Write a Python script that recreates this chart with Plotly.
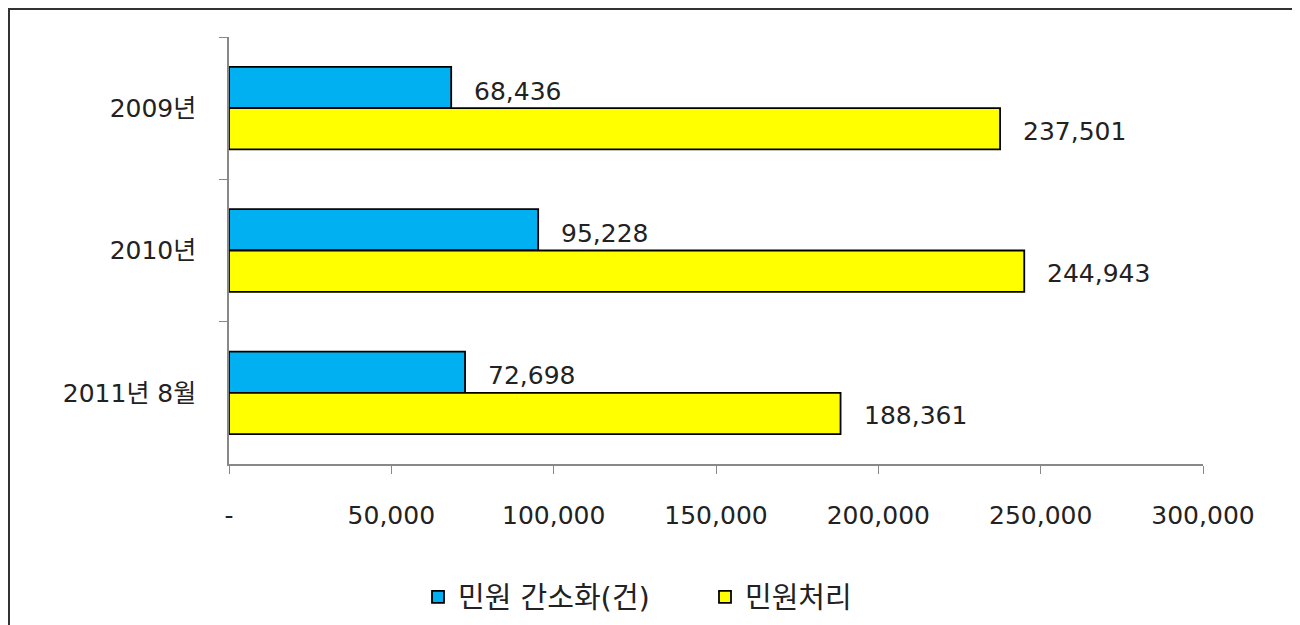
import plotly.graph_objects as go

categories = ["2009년", "2010년", "2011년 8월"]
simplify = [68436, 95228, 72698]
process = [237501, 244943, 188361]
series_names = ["민원 간소화(건)", "민원처리"]
tick_vals = [0, 50000, 100000, 150000, 200000, 250000, 300000]
tick_text = ["-", "50,000", "100,000", "150,000", "200,000", "250,000", "300,000"]

FONT = "DejaVu Sans, Noto Sans CJK KR"
TXT = "#222222"
fig = go.Figure()
colors = ["#00B0F0", "#FFFF00"]
for name, vals, col in zip(series_names, [simplify, process], colors):
    fig.add_trace(go.Bar(
        y=categories, x=vals, name=name, orientation="h",
        marker=dict(color=col, line=dict(color="#000000", width=1.8)),
    ))

# data labels
for ti, vals in enumerate([simplify, process]):
    for cat, v in zip(categories, vals):
        fig.add_annotation(
            x=v, y=cat, text=f"{v:,}", showarrow=False, xanchor="left",
            xshift=21, yshift=(17 if ti == 0 else -23),
            font=dict(family=FONT, size=25, color=TXT),
        )

# page has an 8px body margin; positions below are in figure coordinates
L, T = 221, 29
R = 1300 - 1195
B = 625 - 457
W, H = 1300 - L - R, 625 - T - B
fig.add_shape(type="rect", xref="paper", yref="paper",
              x0=(1 - L) / W, x1=(1286 - L) / W,
              y0=-(650 - 457) / H, y1=1 + (T - 1) / H,
              line=dict(color="#333333", width=2), fillcolor="rgba(0,0,0,0)")

fig.update_layout(
    width=1300, height=625,
    margin=dict(l=L, r=R, t=T, b=B),
    paper_bgcolor="white", plot_bgcolor="white",
    barmode="group", bargap=0.42, bargroupgap=0,
    font=dict(family=FONT, size=25, color=TXT),
    showlegend=True,
    legend=dict(orientation="h", x=(410 - L) / W, xanchor="left",
                y=-(589 - 457) / H, yanchor="middle",
                font=dict(family=FONT, size=29, color=TXT), itemwidth=30,
                entrywidth=242, entrywidthmode="pixels",
                traceorder="normal"),
    xaxis=dict(range=[0, 300000], tickvals=tick_vals, ticktext=tick_text,
               showgrid=False, zeroline=False, showline=True, linecolor="#888888",
               linewidth=1.5, ticks="outside", ticklen=8, tickcolor="#888888",
               ticklabelstandoff=20, tickfont=dict(size=25)),
    yaxis=dict(autorange="reversed", showgrid=False, showline=True,
               linecolor="#888888", linewidth=1.5, ticks="outside", ticklen=8,
               tickcolor="#888888", tickson="boundaries", ticklabelstandoff=26,
               tickfont=dict(size=25)),
)

fig.write_html("out.html")
